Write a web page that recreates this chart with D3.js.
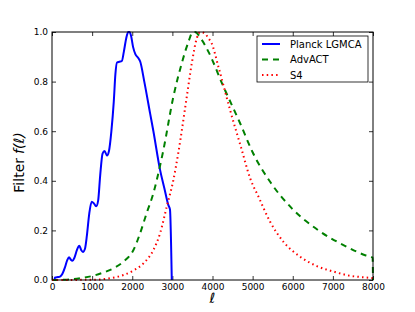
<!DOCTYPE html>
<html>
<head>
<meta charset="utf-8">
<script src="https://cdn.jsdelivr.net/npm/d3@7"></script>
<style>
  body { margin: 0; background: #fff; overflow: hidden; }
  svg { display: block; }
  text { font-family: "DejaVu Sans", sans-serif; }
</style>
</head>
<body>
<div id="chart"></div>
<script>
// multipole ell and filter value
const planckEll = [60, 75, 150, 200, 260, 320, 380, 424, 470, 510, 560, 620, 680, 730, 770, 820, 870, 930, 990, 1040, 1100, 1150, 1200, 1260, 1310, 1370, 1420, 1480, 1540, 1580, 1620, 1680, 1740, 1790, 1850, 1900, 1930, 1970, 2020, 2080, 2150, 2200, 2300, 2445, 2527, 2693, 2800, 2900, 2940, 2985];
const planckF = [0.0, 0.010, 0.012, 0.014, 0.025, 0.05, 0.08, 0.092, 0.082, 0.078, 0.09, 0.12, 0.138, 0.12, 0.113, 0.125, 0.18, 0.27, 0.316, 0.31, 0.297, 0.32, 0.42, 0.51, 0.52, 0.502, 0.52, 0.6, 0.72, 0.83, 0.877, 0.88, 0.883, 0.92, 0.975, 1.0, 1.0, 0.985, 0.94, 0.91, 0.895, 0.88, 0.8, 0.672, 0.6, 0.444, 0.37, 0.302, 0.285, 0.0];

const advactEll = [0, 300, 500, 700, 1000, 1280, 1530, 1780, 2030, 2195, 2360, 2527, 2650, 2776, 3025, 3234, 3400, 3510, 3560, 3733, 3900, 4272, 4688, 5000, 5436, 5977, 6641, 7348, 7805, 7990, 8000];
const advactF = [0.0, 0.001, 0.003, 0.007, 0.016, 0.03, 0.047, 0.074, 0.121, 0.188, 0.27, 0.35, 0.43, 0.524, 0.739, 0.874, 0.96, 1.0, 1.0, 0.968, 0.92, 0.78, 0.632, 0.515, 0.396, 0.289, 0.20, 0.134, 0.10, 0.09, 0.0];

const s4Ell = [0, 1000, 1446, 1780, 2030, 2278, 2527, 2693, 2860, 3025, 3150, 3359, 3484, 3608, 3700, 3800, 3900, 3980, 4147, 4439, 4730, 4938, 5145, 5436, 5768, 6185, 6600, 7015, 7431, 7847, 8000];
const s4F = [0.0, 0.001, 0.007, 0.02, 0.038, 0.067, 0.121, 0.188, 0.296, 0.403, 0.515, 0.739, 0.874, 0.974, 1.0, 0.995, 0.975, 0.954, 0.86, 0.685, 0.524, 0.41, 0.336, 0.235, 0.154, 0.094, 0.056, 0.034, 0.017, 0.01, 0.008];

const seriesNames = ["Planck LGMCA", "AdvACT", "S4"];
const xTicks = [0, 1000, 2000, 3000, 4000, 5000, 6000, 7000, 8000];
const yTicks = [0.0, 0.2, 0.4, 0.6, 0.8, 1.0];

const width = 415;
const height = 312;
const margin = { top: 32, right: 42, bottom: 32, left: 52 };
const innerWidth = width - margin.left - margin.right;
const innerHeight = height - margin.top - margin.bottom;

const series = [
  { name: seriesNames[0], ell: planckEll, f: planckF, color: "#0000ff", dash: null },
  { name: seriesNames[1], ell: advactEll, f: advactF, color: "#008000", dash: "6,5" },
  { name: seriesNames[2], ell: s4Ell, f: s4F, color: "#ff0000", dash: "1.5,3.2" }
];

const svg = d3.select("#chart")
  .append("svg")
  .attr("width", width)
  .attr("height", height)
  .append("g")
  .attr("transform", `translate(${margin.left}, ${margin.top})`);

const x = d3.scaleLinear().domain([0, 8000]).range([0, innerWidth]);
const y = d3.scaleLinear().domain([0, 1]).range([innerHeight, 0]);

// ticks point inward on all four sides
const tickLen = 4;
svg.append("g")
  .attr("transform", `translate(0, ${innerHeight})`)
  .call(d3.axisBottom(x).tickValues(xTicks).tickFormat(d3.format("d")).tickSizeInner(-tickLen).tickSizeOuter(0).tickPadding(4));
svg.append("g")
  .attr("class", "mirror")
  .call(d3.axisTop(x).tickValues(xTicks).tickSizeInner(-tickLen).tickSizeOuter(0));
svg.append("g")
  .call(d3.axisLeft(y).tickValues(yTicks).tickFormat(d3.format(".1f")).tickSizeInner(-tickLen).tickSizeOuter(0).tickPadding(4));
svg.append("g")
  .attr("class", "mirror")
  .attr("transform", `translate(${innerWidth}, 0)`)
  .call(d3.axisRight(y).tickValues(yTicks).tickSizeInner(-tickLen).tickSizeOuter(0));

svg.selectAll(".mirror .tick text").remove();
svg.selectAll(".domain").remove();
svg.selectAll(".tick line").attr("stroke", "#000").attr("stroke-width", 0.8);
svg.selectAll(".tick text").attr("font-size", 9).attr("fill", "#000")
  .style("font-family", "DejaVu Sans, sans-serif");

const line = d3.line()
  .x((d) => x(d[0]))
  .y((d) => y(d[1]))
  .curve(d3.curveMonotoneX);

svg.append("clipPath").attr("id", "plotclip")
  .append("rect").attr("x", -1).attr("y", -2).attr("width", innerWidth + 2).attr("height", innerHeight + 3);

svg.append("g")
  .attr("clip-path", "url(#plotclip)")
  .selectAll("path")
  .data(series)
  .enter()
  .append("path")
  .attr("fill", "none")
  .attr("stroke", (d) => d.color)
  .attr("stroke-width", 2)
  .attr("stroke-dasharray", (d) => d.dash)
  .attr("d", (d) => line(d.ell.map((e, i) => [e, d.f[i]])));

svg.append("rect")
  .attr("width", innerWidth)
  .attr("height", innerHeight)
  .attr("fill", "none")
  .attr("stroke", "#000")
  .attr("stroke-width", 1);

// legend
const legend = svg.append("g").attr("transform", `translate(${205}, ${4})`);
legend.append("rect")
  .attr("width", 111)
  .attr("height", 46)
  .attr("fill", "#fff")
  .attr("stroke", "#000")
  .attr("stroke-width", 0.8);
const rows = legend.selectAll(".row")
  .data(series)
  .enter()
  .append("g")
  .attr("transform", (d, i) => `translate(0, ${8 + i * 15.5})`);
rows.append("line")
  .attr("x1", 5).attr("x2", 23)
  .attr("y1", 0).attr("y2", 0)
  .attr("stroke", (d) => d.color)
  .attr("stroke-width", 2)
  .attr("stroke-dasharray", (d) => d.dash);
rows.append("text")
  .attr("x", 33)
  .attr("y", 3.6)
  .attr("font-size", 10)
  .text((d) => d.name);

// axis labels
svg.append("text")
  .attr("x", innerWidth / 2)
  .attr("y", innerHeight + 23)
  .attr("text-anchor", "middle")
  .attr("font-size", 14)
  .attr("font-style", "italic")
  .text("ℓ");

const ylabMid = innerHeight / 2;
svg.append("text")
  .attr("transform", `translate(-28, ${ylabMid + 2}) rotate(-90)`)
  .attr("text-anchor", "end")
  .attr("font-size", 14)
  .text("Filter");
svg.append("text")
  .attr("transform", `translate(-28, ${ylabMid - 2}) rotate(-90)`)
  .attr("text-anchor", "start")
  .attr("font-size", 14)
  .attr("font-style", "italic")
  .text("f(ℓ)");
</script>
</body>
</html>
